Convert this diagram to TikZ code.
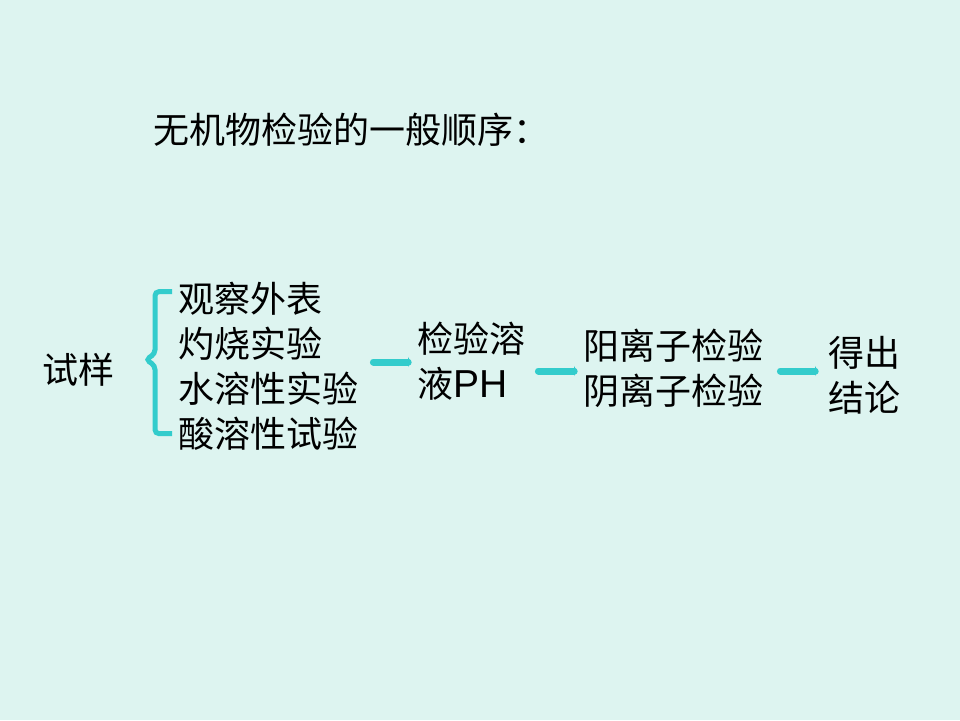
\documentclass[tikz,border=0pt]{standalone}
\usepackage{fontspec}
\usepackage{xcolor}
\setmainfont{Noto Sans CJK SC}
\newfontfamily\latinfont{Liberation Sans}
\usetikzlibrary{
    arrows.meta,
    positioning
}
\definecolor{slidebg}{RGB}{221,244,240}
\definecolor{flowteal}{RGB}{51,204,204}
\tikzset{
    slidetext/.style={inner sep=0pt, align=left, anchor=west,
        font=\fontsize{36}{45}\selectfont},
    flow/.style={flowteal, line width=7pt, line cap=round,
        -{Triangle[length=3pt,width=10pt]}}
}

\begin{document}
\begin{tikzpicture}[x=1pt, y=-1pt]
    % Slide background
    \fill[slidebg] (0,0) rectangle (960,720);
    \useasboundingbox (0,0) rectangle (960,720);

    % Title
    \node[slidetext] (title) at (153,130) {无机物检验的一般顺序：};

    % Sample and the first checks
    \node[slidetext] (sample) at (42,370) {试样};
    \node[slidetext] (checks) at (178,366) {观察外表\\灼烧实验\\水溶性实验\\酸溶性试验};

    % Bracket in front of the checks
    \draw[flowteal, line width=5pt, rounded corners=4pt]
        ([xshift=-6pt,yshift=-10pt]checks.north west) -- ++(-17,0)
        -- ++(0,62) -- ++(-9,6) -- ++(9,6) -- ++(0,68) -- ++(17,0);

    % Further steps
    \node[slidetext] (ph) at (417,361) {检验溶\\液{\latinfont\fontsize{39}{45}\selectfont PH}};
    \node[slidetext] (ions) at (583,368) {阳离子检验\\阴离子检验};
    \node[slidetext] (result) at (828,375) {得出\\结论};

    % Arrows between the steps
    \draw[flow] ([xshift=15pt,yshift=4pt]checks.east) -- ([xshift=-6pt,yshift=4pt]checks.east -| ph.west);
    \draw[flow] ([xshift=13pt,yshift=-10pt]ph.east) -- ([xshift=-6pt,yshift=-10pt]ph.east -| ions.west);
    \draw[flow] ([xshift=17pt,yshift=-3pt]ions.east) -- ([xshift=-10pt,yshift=-3pt]ions.east -| result.west);
\end{tikzpicture}
\end{document}
